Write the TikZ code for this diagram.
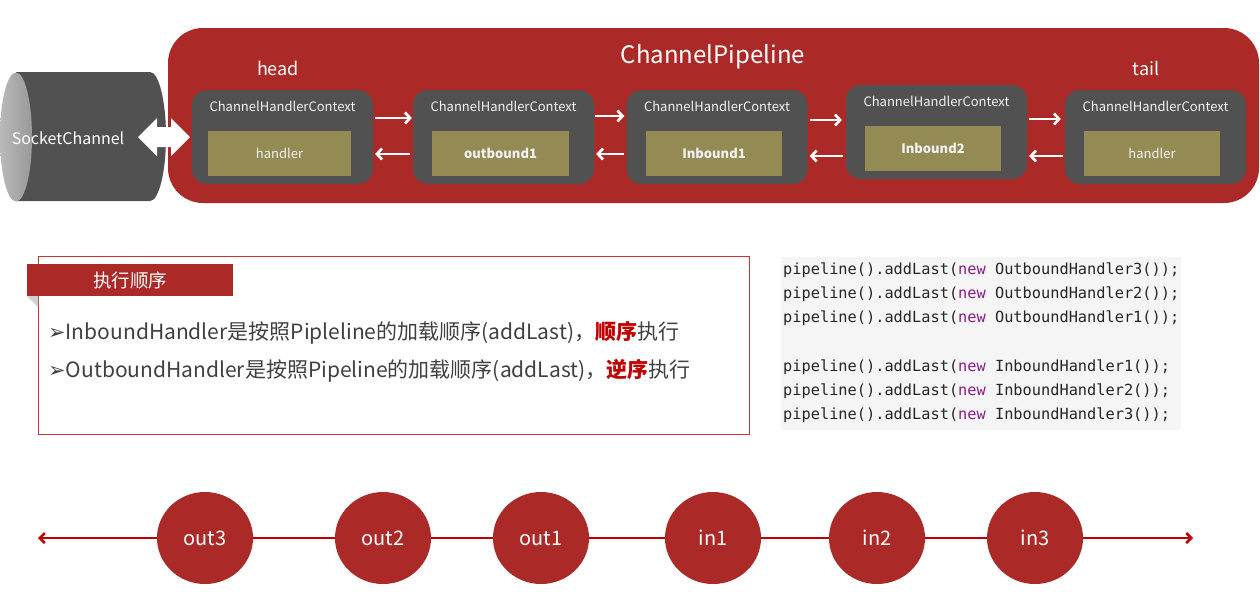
\documentclass[tikz,border=0pt]{standalone}
\usepackage{fontspec}
\setmainfont{Noto Sans CJK SC}
\newfontfamily\dejavu{DejaVu Sans}
\newfontfamily\codefont{DejaVu Sans Mono}
\usetikzlibrary{arrows.meta,shapes.geometric,positioning,calc}
\definecolor{pred}{HTML}{AB2A27}
\definecolor{boxgray}{HTML}{515151}
\definecolor{olive}{HTML}{948A54}
\definecolor{linered}{HTML}{C00000}
\definecolor{txtgray}{HTML}{404040}
\definecolor{codetxt}{HTML}{262626}
\definecolor{kw}{HTML}{8B1A8B}
\definecolor{codebg}{HTML}{F5F5F5}
\definecolor{lbl}{HTML}{F2F2F2}
\tikzset{
  ctx/.style={fill=boxgray, rounded corners=15pt, minimum width=181pt, minimum height=94pt, inner sep=0pt},
  ctxlabel/.style={text=lbl, font=\fontsize{13}{15}\selectfont, inner sep=0pt},
  hbox/.style={fill=olive, minimum height=45pt, inner sep=0pt, text=lbl, font=\fontsize{13}{15}\selectfont},
  flow/.style={draw=white, line width=2.7pt, -{Straight Barb[length=5pt,width=11pt]}},
  stage/.style={ellipse, fill=pred, minimum width=96pt, minimum height=92pt, inner sep=0pt, text=white, font=\fontsize{20}{24}\selectfont},
  tl/.style={draw=linered, line width=2.5pt},
  code/.style={anchor=west, inner sep=0pt, text=codetxt, font=\codefont\fontsize{15.3}{18}\selectfont},
  bullet/.style={anchor=west, inner sep=0pt, text=txtgray, font=\fontsize{21}{25}\selectfont}
}
\newcommand{\kwnew}{\textcolor{kw}{new}}
\begin{document}
\begin{tikzpicture}[x=1pt,y=-1pt]
\useasboundingbox (0,0) rectangle (1260,614);
\fill[white] (0,0) rectangle (1260,614);

% pipeline container
\node[fill=pred, rounded corners=35pt, minimum width=1091pt, minimum height=175pt, inner sep=0pt] (pipe) at (713.5,115.5) {};
\node[text=white, font=\fontsize{24}{28}\selectfont, inner sep=0pt] (ptitle) at (713,57) {ChannelPipeline};
\node[text=white, font=\fontsize{18}{22}\selectfont, inner sep=0pt] (headl) at (278,68) {head};
\node[text=white, font=\fontsize{18}{22}\selectfont, inner sep=0pt] (taill) at (1146,68) {tail};

% socket channel cylinder
\fill[boxgray] (16,72) -- (150,72) arc[start angle=-90, end angle=90, x radius=16, y radius=64.5] -- (16,201) -- cycle;
\shade[left color=gray!55, right color=gray!80] (16,137) ellipse[x radius=16, y radius=64.5];
\node[text=white, font=\fontsize{16}{19}\selectfont, inner sep=0pt] (sock) at (68,138) {SocketChannel};

% contexts
\node[ctx] (c1) at (282.5,137) {};
\node[ctx] (c2) at (503.5,137) {};
\node[ctx] (c3) at (717,137) {};
\node[ctx] (c4) at (936.5,132) {};
\node[ctx] (c5) at (1155.5,137) {};

\foreach \n in {1,...,5} {
  \node[ctxlabel] (t\n) at ($(c\n.north)+(0,17)$) {ChannelHandlerContext};
}
\node[hbox, minimum width=143pt] (h1) at (279.5,153.5) {handler};
\node[hbox, minimum width=137pt, font=\bfseries\fontsize{13}{15}\selectfont] (h2) at (500.5,153.5) {outbound1};
\node[hbox, minimum width=136pt, font=\bfseries\fontsize{13}{15}\selectfont] (h3) at (714,153.5) {Inbound1};
\node[hbox, minimum width=136pt, font=\bfseries\fontsize{13}{15}\selectfont] (h4) at (933,148.5) {Inbound2};
\node[hbox, minimum width=136pt] (h5) at (1152,153.5) {handler};

% double arrow socket <-> head
\fill[white] (138,137) -- (157,118) -- (157,127) -- (171,127) -- (171,118) -- (190,137) -- (171,156) -- (171,147) -- (157,147) -- (157,156) -- cycle;

% flow arrows
\draw[flow] ([xshift=2pt,yshift=19pt]c1.east) -- ([xshift=-1pt,yshift=19pt]c2.west);
\draw[flow] ([xshift=-3pt,yshift=-17pt]c2.west) -- ([xshift=2pt,yshift=-17pt]c1.east);
\draw[flow] ([xshift=1pt,yshift=21pt]c2.east) -- ([xshift=-2pt,yshift=21pt]c3.west);
\draw[flow] ([xshift=-2pt,yshift=-17pt]c3.west) -- ([xshift=2pt,yshift=-17pt]c2.east);
\draw[flow] ([xshift=2pt,yshift=17pt]c3.east) -- ([xshift=-4pt,yshift=12pt]c4.west);
\draw[flow] ([xshift=-3pt,yshift=-24pt]c4.west) -- ([xshift=2pt,yshift=-19pt]c3.east);
\draw[flow] ([xshift=2pt,yshift=13pt]c4.east) -- ([xshift=-4pt,yshift=18pt]c5.west);
\draw[flow] ([xshift=-2pt,yshift=-19pt]c5.west) -- ([xshift=2pt,yshift=-24pt]c4.east);

% execution order panel
\node[draw=linered!80, line width=0.8pt, minimum width=711pt, minimum height=178pt, inner sep=0pt] (panel) at (393.5,345) {};
\fill[gray!35] (27,296) -- (38,296) -- (38,307) -- cycle;
\node[fill=pred, minimum width=206pt, minimum height=32pt, inner sep=0pt, text=white, font=\fontsize{18.5}{22}\selectfont] (tab) at (130,280) {执行顺序};
\node[bullet] (b1) at (48,333) {{\dejavu\fontsize{21}{24}\selectfont ➢}InboundHandler是按照Pipleline的加载顺序(addLast)，\textcolor{linered}{\bfseries 顺序}执行};
\node[bullet] (b2) at (48,371) {{\dejavu\fontsize{21}{24}\selectfont ➢}OutboundHandler是按照Pipeline的加载顺序(addLast)，\textcolor{linered}{\bfseries 逆序}执行};

% code block
\node[fill=codebg, minimum width=400pt, minimum height=173pt, inner sep=0pt] (codebox) at (981,343.5) {};
\node[code] (k1) at (783,270.5) {pipeline().addLast(\kwnew{} OutboundHandler3());};
\node[code] (k2) at (783,294.5) {pipeline().addLast(\kwnew{} OutboundHandler2());};
\node[code] (k3) at (783,318.5) {pipeline().addLast(\kwnew{} OutboundHandler1());};
\node[code] (k4) at (783,367.5) {pipeline().addLast(\kwnew{} InboundHandler1());};
\node[code] (k5) at (783,391.5) {pipeline().addLast(\kwnew{} InboundHandler2());};
\node[code] (k6) at (783,415.5) {pipeline().addLast(\kwnew{} InboundHandler3());};

% order timeline
\coordinate (L) at (38,538);
\coordinate (R) at (1193,538);
\node[stage] (o3) at (205,538) {out3};
\node[stage] (o2) at (383,538) {out2};
\node[stage] (o1) at (541,538) {out1};
\node[stage] (i1) at (713,538) {in1};
\node[stage] (i2) at (877,538) {in2};
\node[stage] (i3) at (1035,538) {\raisebox{1pt}{in3}};
\draw[tl, -{Straight Barb[length=5pt,width=10pt]}] (o3) -- (L);
\draw[tl] (o3) -- (o2);
\draw[tl] (o2) -- (o1);
\draw[tl] (o1) -- (i1);
\draw[tl] (i1) -- (i2);
\draw[tl] (i2) -- (i3);
\draw[tl, -{Straight Barb[length=5pt,width=10pt]}] (i3) -- (R);
\end{tikzpicture}
\end{document}
